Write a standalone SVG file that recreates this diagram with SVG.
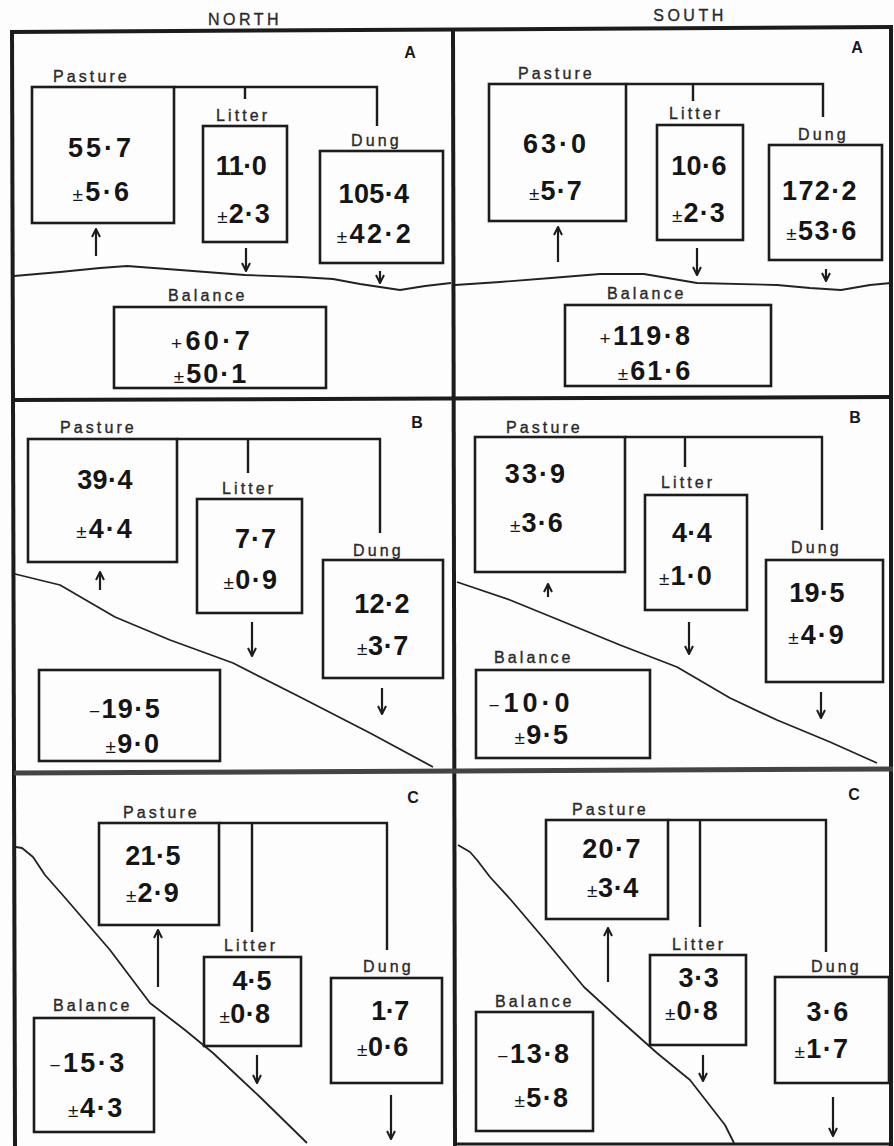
<svg xmlns="http://www.w3.org/2000/svg" width="894" height="1146" viewBox="0 0 894 1146">
<style>
.bg{fill:#fdfdfd}
.frame{fill:none;stroke:#1c1c1c;stroke-width:4}
.box{fill:none;stroke:#1c1c1c;stroke-width:2.6}
.conn{fill:none;stroke:#1c1c1c;stroke-width:2.4}
.arr{fill:none;stroke:#1c1c1c;stroke-width:2.2;marker-end:url(#ah)}
.ground{fill:none;stroke:#222;stroke-width:1.8;stroke-linejoin:round}
.lbl{font-family:"Liberation Sans",Arial,sans-serif;font-size:16px;letter-spacing:3.1px;fill:#2a2a2a;stroke:#2a2a2a;stroke-width:0.35}
.hd{font-family:"Liberation Sans",Arial,sans-serif;font-size:16px;letter-spacing:3.5px;fill:#2a2a2a;stroke:#2a2a2a;stroke-width:0.35;text-anchor:middle}
.pl{font-family:"Liberation Sans",Arial,sans-serif;font-size:16px;font-weight:bold;fill:#1a1a1a;text-anchor:middle}
.num{font-family:"Liberation Sans",Arial,sans-serif;font-size:27px;font-weight:bold;fill:#151515;text-anchor:middle}
.sm{font-size:19px;font-weight:normal}
</style>
<defs>
<marker id="ah" viewBox="0 0 10 10" refX="9" refY="5" markerWidth="10" markerHeight="10" markerUnits="userSpaceOnUse" orient="auto">
<path d="M1,1 L9,5 L1,9" fill="none" stroke="#1c1c1c" stroke-width="2"/>
</marker>
</defs>
<rect class="bg" x="0" y="0" width="894" height="1146"/>

<g id="headings">
<text class="hd" x="245" y="25">NORTH</text>
<text class="hd" x="690" y="21">SOUTH</text>
</g>

<g id="frame">
<path class="frame" d="M10,32 L893,27"/>
<path class="frame" d="M12,30 L15,1146"/>
<path class="frame" d="M891,27 L891,1146"/>
<path class="frame" d="M453,29 L455,1146"/>
<path class="frame" d="M12,400 L893,397"/>
<path class="frame" d="M14,773 L893,769" style="stroke:#444;stroke-width:5"/>
<path class="frame" d="M455,1144 L893,1144" style="stroke-width:3"/>
</g>

<g id="panel-letters">
<text class="pl" x="410" y="58">A</text>
<text class="pl" x="857" y="53">A</text>
<text class="pl" x="417" y="428">B</text>
<text class="pl" x="855" y="423">B</text>
<text class="pl" x="413" y="803">C</text>
<text class="pl" x="854" y="800">C</text>
</g>

<g id="ground-lines">
<path class="ground" d="M14,276 L60,272 L100,268 L127,266 L180,270 L245,275 L300,277 L333,279 L360,284 L400,290 L425,286 L451,283"/>
<path class="ground" d="M455,285 L500,282 L551,278 L600,274 L644,274 L697,283 L777,285 L810,288 L841,290 L870,285 L891,283"/>
<path class="ground" d="M15,574 L60,585 L115,617 L170,640 L233,663 L300,697 L370,733 L433,767"/>
<path class="ground" d="M457,582 L510,600 L559,620 L620,645 L677,667 L730,698 L777,720 L830,742 L877,763"/>
<path class="ground" d="M16,847 L22,848 L33,857 L45,875 L67,900 L110,950 L150,1003 L185,1030 L213,1053 L260,1097 L307,1143"/>
<path class="ground" d="M458,845 L470,852 L477,860 L490,877 L511,900 L545,940 L584,987 L620,1020 L657,1053 L690,1080 L711,1107 L725,1125 L734,1143"/>
</g>

<g id="connectors">
<path class="conn" d="M174,87 H377 V126 M245,87 V99"/>
<path class="arr" d="M96,256 V229"/>
<path class="arr" d="M246,248 V271"/>
<path class="arr" d="M380,271 V283"/>

<path class="conn" d="M626,84 H823 V117 M693,84 V101"/>
<path class="arr" d="M558,262 V227"/>
<path class="arr" d="M697,248 V275"/>
<path class="arr" d="M826,269 V281"/>

<path class="conn" d="M177,439 H380 V533 M248,439 V473"/>
<path class="arr" d="M100,590 V572"/>
<path class="arr" d="M252,622 V656"/>
<path class="arr" d="M382,688 V714"/>

<path class="conn" d="M625,437 H822 V530 M685,437 V467"/>
<path class="arr" d="M548,597 V584"/>
<path class="arr" d="M689,622 V654"/>
<path class="arr" d="M821,692 V718"/>

<path class="conn" d="M219,823 H387 V950 M252,823 V932"/>
<path class="arr" d="M158,987 V930"/>
<path class="arr" d="M257,1055 V1083"/>
<path class="arr" d="M391,1095 V1139"/>

<path class="conn" d="M668,820 H826 V952 M700,820 V927"/>
<path class="arr" d="M608,982 V928"/>
<path class="arr" d="M703,1055 V1081"/>
<path class="arr" d="M833,1097 V1136"/>
</g>

<!-- NORTH A -->
<g id="na-pasture">
<rect class="box" x="32" y="87" width="142" height="136"/>
<text class="lbl" x="53" y="82">Pasture</text>
<text class="num" x="101" y="157" style="letter-spacing:3px">55·7</text>
<text class="num" x="102" y="201" style="letter-spacing:2.4px"><tspan class="sm">±</tspan>5·6</text>
</g>
<g id="na-litter">
<rect class="box" x="203" y="126" width="84" height="116"/>
<text class="lbl" x="216" y="121">Litter</text>
<text class="num" x="241" y="175" style="letter-spacing:-0.5px">11·0</text>
<text class="num" x="244" y="223" style="letter-spacing:1px"><tspan class="sm">±</tspan>2·3</text>
</g>
<g id="na-dung">
<rect class="box" x="320" y="151" width="123" height="112"/>
<text class="lbl" x="351" y="146">Dung</text>
<text class="num" x="374" y="203" style="letter-spacing:0.4px">105·4</text>
<text class="num" x="375" y="243" style="letter-spacing:2.4px"><tspan class="sm">±</tspan>42·2</text>
</g>
<g id="na-balance">
<rect class="box" x="114" y="307" width="212" height="81"/>
<text class="lbl" x="168" y="301">Balance</text>
<text class="num" x="212" y="350" style="letter-spacing:3.4px"><tspan class="sm">+</tspan>60·7</text>
<text class="num" x="211" y="383" style="letter-spacing:2px"><tspan class="sm">±</tspan>50·1</text>
</g>

<!-- SOUTH A -->
<g id="sa-pasture">
<rect class="box" x="489" y="84" width="137" height="137"/>
<text class="lbl" x="518" y="79">Pasture</text>
<text class="num" x="556" y="153" style="letter-spacing:3px">63·0</text>
<text class="num" x="556" y="200" style="letter-spacing:1.1px"><tspan class="sm">±</tspan>5·7</text>
</g>
<g id="sa-litter">
<rect class="box" x="657" y="125" width="86" height="115"/>
<text class="lbl" x="669" y="119">Litter</text>
<text class="num" x="699" y="175" style="letter-spacing:0.4px">10·6</text>
<text class="num" x="699" y="222" style="letter-spacing:1.1px"><tspan class="sm">±</tspan>2·3</text>
</g>
<g id="sa-dung">
<rect class="box" x="769" y="145" width="113" height="115"/>
<text class="lbl" x="798" y="140">Dung</text>
<text class="num" x="820" y="200" style="letter-spacing:1.4px">172·2</text>
<text class="num" x="822" y="240" style="letter-spacing:1.4px"><tspan class="sm">±</tspan>53·6</text>
</g>
<g id="sa-balance">
<rect class="box" x="565" y="305" width="206" height="81"/>
<text class="lbl" x="607" y="299">Balance</text>
<text class="num" x="646" y="345" style="letter-spacing:2.4px"><tspan class="sm">+</tspan>119·8</text>
<text class="num" x="655" y="380" style="letter-spacing:2px"><tspan class="sm">±</tspan>61·6</text>
</g>

<!-- NORTH B -->
<g id="nb-pasture">
<rect class="box" x="28" y="439" width="149" height="123"/>
<text class="lbl" x="60" y="433">Pasture</text>
<text class="num" x="105" y="489" style="letter-spacing:0.4px">39·4</text>
<text class="num" x="105" y="538" style="letter-spacing:2px"><tspan class="sm">±</tspan>4·4</text>
</g>
<g id="nb-litter">
<rect class="box" x="197" y="499" width="105" height="114"/>
<text class="lbl" x="222" y="494">Litter</text>
<text class="num" x="256" y="548" style="letter-spacing:1px">7·7</text>
<text class="num" x="251" y="589" style="letter-spacing:1.4px"><tspan class="sm">±</tspan>0·9</text>
</g>
<g id="nb-dung">
<rect class="box" x="323" y="560" width="120" height="118"/>
<text class="lbl" x="353" y="556">Dung</text>
<text class="num" x="382" y="613" style="letter-spacing:0.4px">12·2</text>
<text class="num" x="383" y="655" style="letter-spacing:0.6px"><tspan class="sm">±</tspan>3·7</text>
</g>
<g id="nb-balance">
<rect class="box" x="39" y="670" width="181" height="91"/>
<text class="num" x="125" y="718" style="letter-spacing:1.4px"><tspan class="sm">−</tspan>19·5</text>
<text class="num" x="133" y="753" style="letter-spacing:1.4px"><tspan class="sm">±</tspan>9·0</text>
</g>

<!-- SOUTH B -->
<g id="sb-pasture">
<rect class="box" x="475" y="437" width="150" height="135"/>
<text class="lbl" x="506" y="433">Pasture</text>
<text class="num" x="536" y="483" style="letter-spacing:2.1px">33·9</text>
<text class="num" x="537" y="532" style="letter-spacing:1.1px"><tspan class="sm">±</tspan>3·6</text>
</g>
<g id="sb-litter">
<rect class="box" x="645" y="495" width="102" height="115"/>
<text class="lbl" x="661" y="488">Litter</text>
<text class="num" x="692" y="542" style="letter-spacing:0.4px">4·4</text>
<text class="num" x="686" y="585" style="letter-spacing:1.1px"><tspan class="sm">±</tspan>1·0</text>
</g>
<g id="sb-dung">
<rect class="box" x="766" y="560" width="117" height="122"/>
<text class="lbl" x="791" y="553">Dung</text>
<text class="num" x="817" y="602" style="letter-spacing:0.4px">19·5</text>
<text class="num" x="817" y="644" style="letter-spacing:2px"><tspan class="sm">±</tspan>4·9</text>
</g>
<g id="sb-balance">
<rect class="box" x="476" y="670" width="174" height="88"/>
<text class="lbl" x="494" y="663">Balance</text>
<text class="num" x="531" y="712" style="letter-spacing:4px"><tspan class="sm">−</tspan>10·0</text>
<text class="num" x="542" y="744" style="letter-spacing:1.4px"><tspan class="sm">±</tspan>9·5</text>
</g>

<!-- NORTH C -->
<g id="nc-pasture">
<rect class="box" x="99" y="823" width="120" height="102"/>
<text class="lbl" x="123" y="818">Pasture</text>
<text class="num" x="153" y="865" style="letter-spacing:0.4px">21·5</text>
<text class="num" x="153" y="902" style="letter-spacing:1.1px"><tspan class="sm">±</tspan>2·9</text>
</g>
<g id="nc-litter">
<rect class="box" x="204" y="957" width="97" height="89"/>
<text class="lbl" x="224" y="951">Litter</text>
<text class="num" x="252" y="990" style="letter-spacing:0px">4·5</text>
<text class="num" x="245" y="1023" style="letter-spacing:0.4px"><tspan class="sm">±</tspan>0·8</text>
</g>
<g id="nc-dung">
<rect class="box" x="331" y="978" width="111" height="105"/>
<text class="lbl" x="363" y="972">Dung</text>
<text class="num" x="390" y="1020" style="letter-spacing:-0.5px">1·7</text>
<text class="num" x="383" y="1056" style="letter-spacing:0.6px"><tspan class="sm">±</tspan>0·6</text>
</g>
<g id="nc-balance">
<rect class="box" x="34" y="1018" width="120" height="114"/>
<text class="lbl" x="53" y="1011">Balance</text>
<text class="num" x="88" y="1072" style="letter-spacing:2.4px"><tspan class="sm">−</tspan>15·3</text>
<text class="num" x="96" y="1117" style="letter-spacing:1.6px"><tspan class="sm">±</tspan>4·3</text>
</g>

<!-- SOUTH C -->
<g id="sc-pasture">
<rect class="box" x="546" y="820" width="122" height="99"/>
<text class="lbl" x="572" y="815">Pasture</text>
<text class="num" x="612" y="858" style="letter-spacing:1.4px">20·7</text>
<text class="num" x="613" y="897" style="letter-spacing:0.6px"><tspan class="sm">±</tspan>3·4</text>
</g>
<g id="sc-litter">
<rect class="box" x="650" y="955" width="96" height="90"/>
<text class="lbl" x="672" y="950">Litter</text>
<text class="num" x="699" y="987" style="letter-spacing:0.7px">3·3</text>
<text class="num" x="692" y="1020" style="letter-spacing:1.1px"><tspan class="sm">±</tspan>0·8</text>
</g>
<g id="sc-dung">
<rect class="box" x="775" y="977" width="114" height="106"/>
<text class="lbl" x="811" y="972">Dung</text>
<text class="num" x="828" y="1021" style="letter-spacing:1.4px">3·6</text>
<text class="num" x="822" y="1058" style="letter-spacing:1.4px"><tspan class="sm">±</tspan>1·7</text>
</g>
<g id="sc-balance">
<rect class="box" x="476" y="1012" width="117" height="119"/>
<text class="lbl" x="495" y="1007">Balance</text>
<text class="num" x="534" y="1063" style="letter-spacing:1.7px"><tspan class="sm">−</tspan>13·8</text>
<text class="num" x="542" y="1107" style="letter-spacing:1.4px"><tspan class="sm">±</tspan>5·8</text>
</g>
</svg>
